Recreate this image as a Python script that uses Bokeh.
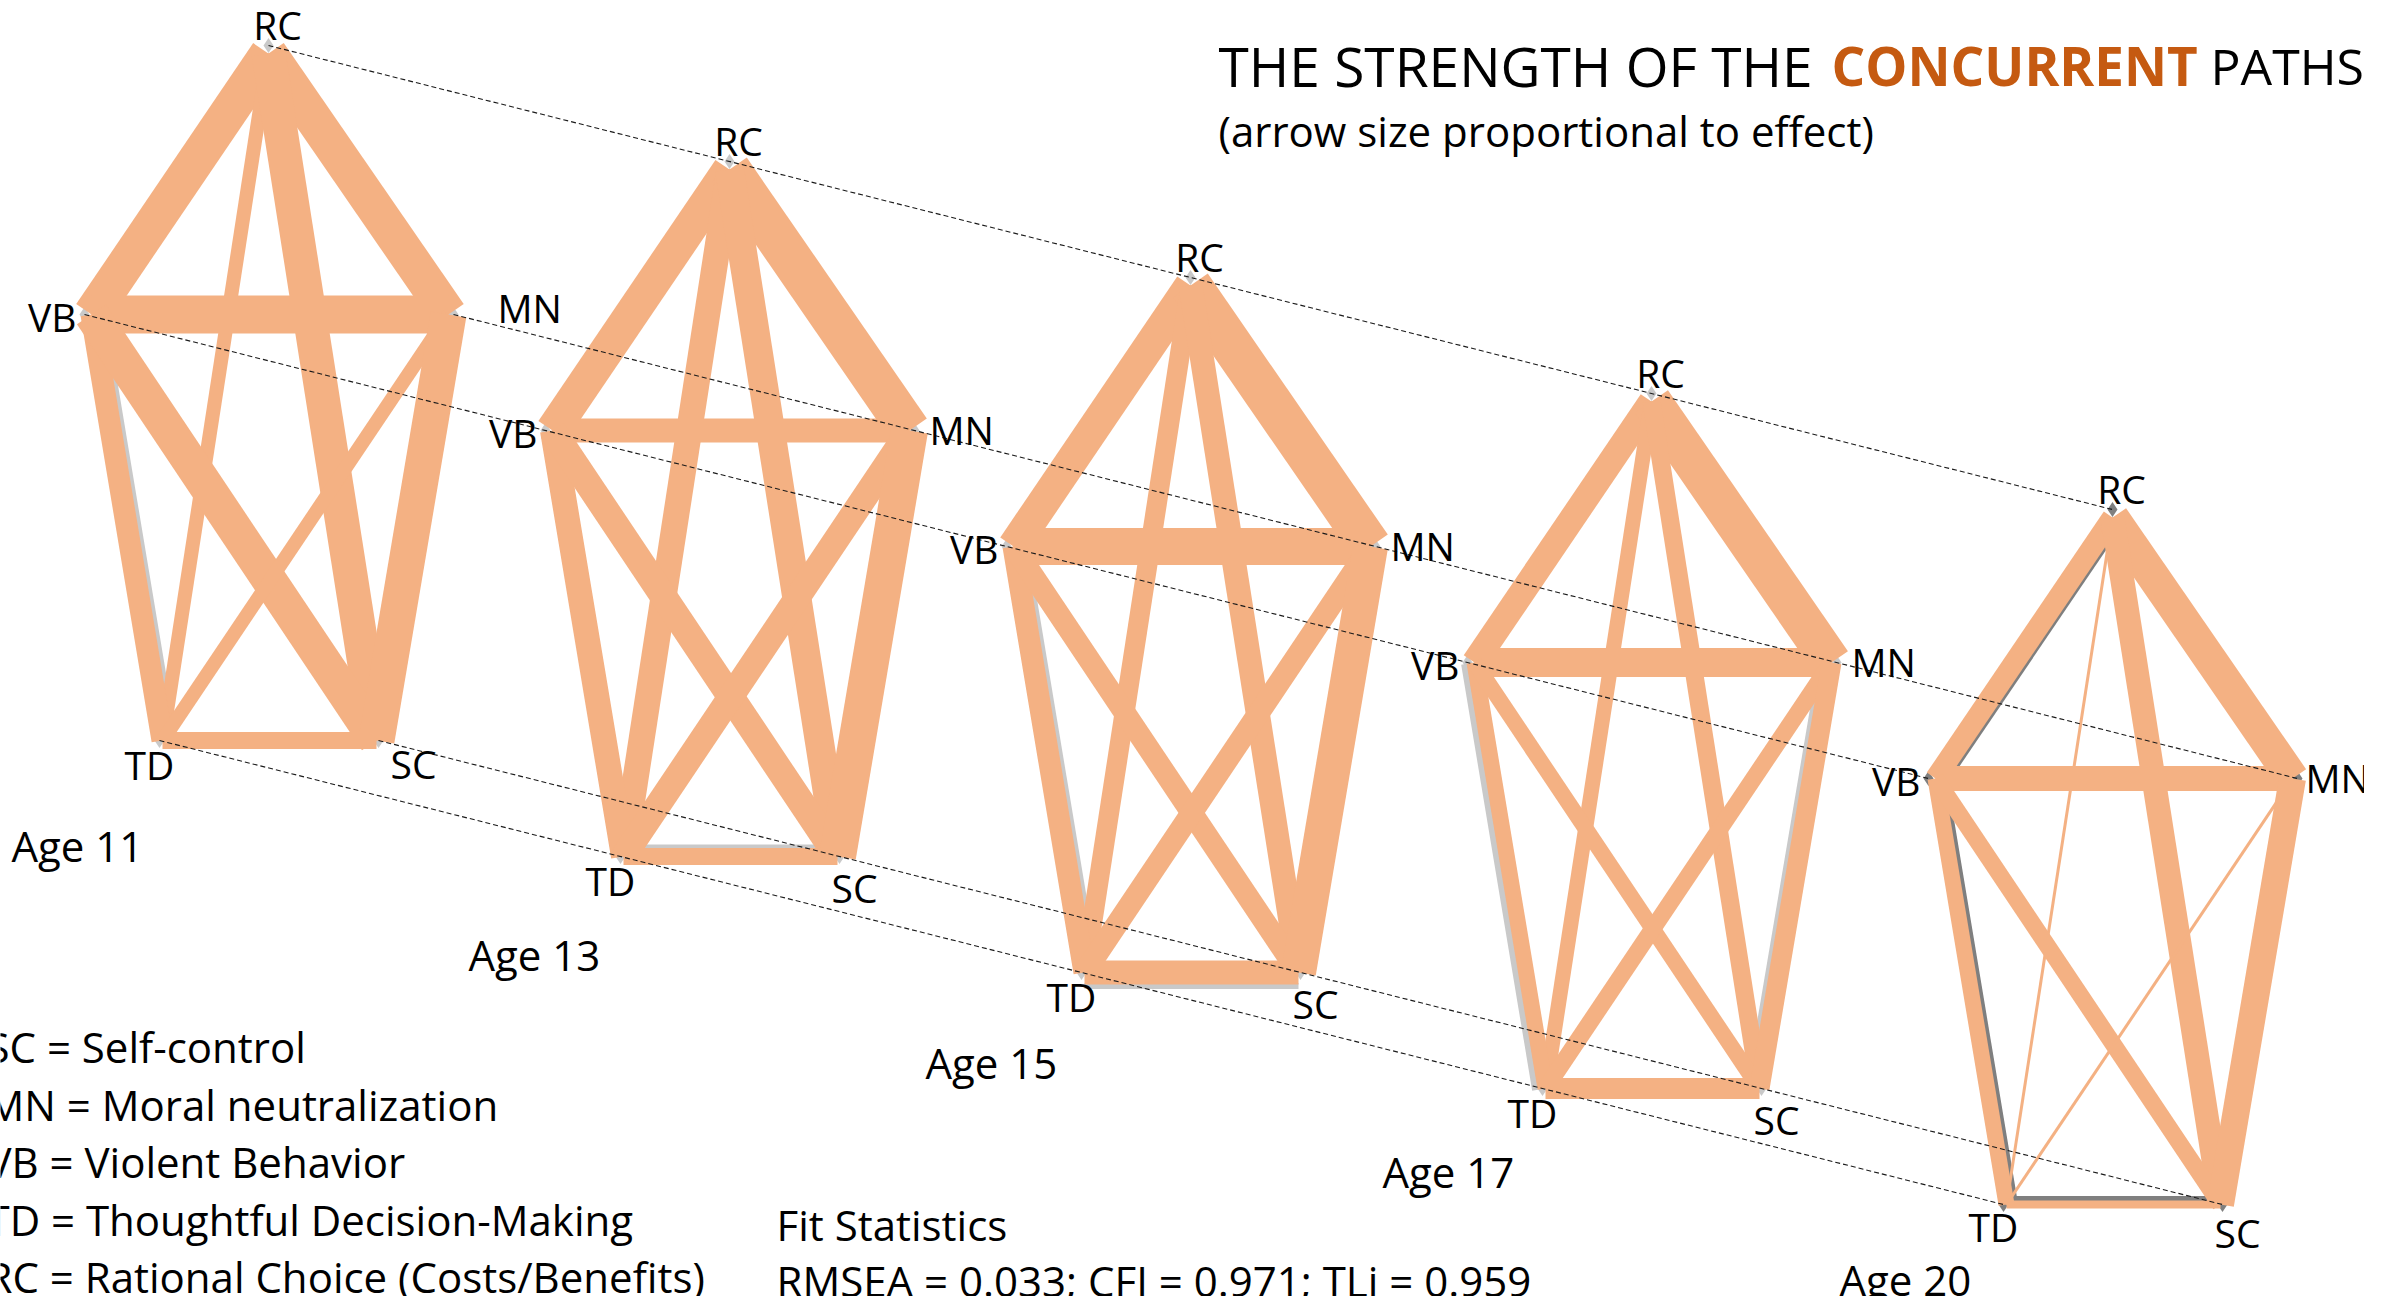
import math
from bokeh.plotting import figure
from bokeh.models import Range1d, ColumnDataSource
from bokeh.core.properties import value
from bokeh.embed import file_html
from bokeh.resources import INLINE

# ---------------- data ----------------
ages = ["Age 11", "Age 13", "Age 15", "Age 17", "Age 20"]
nodes = ["RC", "VB", "MN", "TD", "SC"]
path_from = ["RC", "RC", "RC", "RC", "VB", "VB", "VB", "MN", "MN", "TD"]
path_to = ["VB", "MN", "TD", "SC", "MN", "TD", "SC", "TD", "SC", "SC"]

# concurrent path strengths (arrow size proportional to effect)
effect_age11 = [0.37, 0.37, 0.14, 0.34, 0.38, 0.22, 0.35, 0.14, 0.36, 0.17]
effect_age13 = [0.34, 0.42, 0.26, 0.29, 0.24, 0.25, 0.27, 0.26, 0.37, 0.17]
effect_age15 = [0.32, 0.42, 0.20, 0.24, 0.37, 0.22, 0.22, 0.22, 0.35, 0.24]
effect_age17 = [0.26, 0.40, 0.15, 0.18, 0.29, 0.16, 0.16, 0.17, 0.20, 0.21]
effect_age20 = [0.21, 0.33, 0.03, 0.24, 0.25, 0.16, 0.17, 0.03, 0.27, 0.08]
effects = [effect_age11, effect_age13, effect_age15, effect_age17, effect_age20]

# grey (background) paths visible next to the orange ones
grey_age = ["Age 11", "Age 13", "Age 15", "Age 15", "Age 17", "Age 17", "Age 20", "Age 20", "Age 20"]
grey_from = ["VB", "TD", "VB", "TD", "VB", "MN", "RC", "VB", "TD"]
grey_to = ["TD", "SC", "TD", "SC", "TD", "SC", "VB", "TD", "SC"]
grey_effect = [0.05, 0.05, 0.05, 0.06, 0.07, 0.05, 0.04, 0.05, 0.06]

legend_lines = ["SC = Self-control", "MN = Moral neutralization", "VB = Violent Behavior",
                "TD = Thoughtful Decision-Making", "RC = Rational Choice (Costs/Benefits)"]
fit_title = "Fit Statistics"
fit_line = "RMSEA = 0.033; CFI = 0.971; TLi = 0.959"

# ---------------- layout / style ----------------
W, H = 2364, 1296
PX_PER_EFFECT = 100.0
ORANGE = "#F4B183"
TITLE_ORANGE = "#C55A11"
GREY_LIGHT = "#C9C9C9"
GREY_DARK = "#7F7F7F"
FONT = value("Open Sans")
grey_side = [1, 1, 1, -1, -1, 1, 1, 1, 1]   # +1 inner side, -1 outer side

rc_base = (276.0, 53.0)
age_step = (461.0, 116.0)
shape = {"RC": (0, 0), "VB": (-184, 269), "MN": (185, 269), "TD": (-109, 695), "SC": (110, 695)}
edge_inset = {"RC": (0, 8), "VB": (7, 0), "MN": (-5, 0), "TD": (3, 0), "SC": (-2, 0)}

def node_pos(i, n):
    ox, oy = shape[n]
    return (rc_base[0] + i * age_step[0] + ox, rc_base[1] + i * age_step[1] + oy)

def edge_end(i, n):
    x, y = node_pos(i, n)
    return (x + edge_inset[n][0], y + edge_inset[n][1])

p = figure(width=W, height=H, output_backend="svg", toolbar_location=None,
           x_range=Range1d(8, 8 + W), y_range=Range1d(8 + H, 8),
           min_border=0, outline_line_color=None,
           x_axis_location=None, y_axis_location=None)
p.grid.visible = False
p.background_fill_color = "white"
p.border_fill_color = "white"

# grey node markers
for i, age in enumerate(ages):
    gc = GREY_DARK if i == 4 else GREY_LIGHT
    xs = [node_pos(i, n)[0] for n in nodes]
    ys = [node_pos(i, n)[1] for n in nodes]
    p.scatter(xs, ys, marker="diamond", size=15, color=gc, line_color=None)

# grey underlying paths
gx0, gy0, gx1, gy1, gw, gc = [], [], [], [], [], []
for k in range(len(grey_age)):
    i = ages.index(grey_age[k])
    a = edge_end(i, grey_from[k]); b = edge_end(i, grey_to[k])
    cx = sum(node_pos(i, n)[0] for n in nodes) / 5.0
    cy = sum(node_pos(i, n)[1] for n in nodes) / 5.0
    dx, dy = b[0] - a[0], b[1] - a[1]
    L = math.hypot(dx, dy)
    nx, ny = -dy / L, dx / L
    mx, my = (a[0] + b[0]) / 2, (a[1] + b[1]) / 2
    if (cx - mx) * nx + (cy - my) * ny < 0:
        nx, ny = -nx, -ny
    j = [z for z in range(10) if {path_from[z], path_to[z]} == {grey_from[k], grey_to[k]}][0]
    ow = effects[i][j] * PX_PER_EFFECT
    w = grey_effect[k] * PX_PER_EFFECT
    off = grey_side[k] * (ow / 2 + w / 2 - 1.5)
    gx0.append(a[0] + nx * off); gy0.append(a[1] + ny * off)
    gx1.append(b[0] + nx * off); gy1.append(b[1] + ny * off)
    gw.append(w); gc.append(GREY_DARK if i == 4 else GREY_LIGHT)
p.segment(x0="x0", y0="y0", x1="x1", y1="y1", line_width="w", line_color="c", line_cap="butt",
          source=ColumnDataSource(dict(x0=gx0, y0=gy0, x1=gx1, y1=gy1, w=gw, c=gc)))

# orange concurrent paths
ox0, oy0, ox1, oy1, ow_ = [], [], [], [], []
for i, age in enumerate(ages):
    for j in range(len(path_from)):
        a = edge_end(i, path_from[j]); b = edge_end(i, path_to[j])
        ox0.append(a[0]); oy0.append(a[1]); ox1.append(b[0]); oy1.append(b[1])
        ow_.append(effects[i][j] * PX_PER_EFFECT)
p.segment(x0="x0", y0="y0", x1="x1", y1="y1", line_width="w", line_color=ORANGE, line_cap="butt",
          source=ColumnDataSource(dict(x0=ox0, y0=oy0, x1=ox1, y1=oy1, w=ow_)))

# dashed lines linking the same construct across ages
dx0 = [node_pos(0, n)[0] for n in nodes]; dy0 = [node_pos(0, n)[1] for n in nodes]
dx1 = [node_pos(4, n)[0] for n in nodes]; dy1 = [node_pos(4, n)[1] for n in nodes]
p.segment(dx0, dy0, dx1, dy1, line_color="#1a1a1a", line_width=1.1, line_dash="5 3")

# node labels
lab_off = {"RC": (9, -21, "center"), "VB": (-8, 2, "right"), "MN": (15, -1, "left"),
           "TD": (-10, 24, "center"), "SC": (15, 31, "center")}
lab_override = {(0, "MN"): (44, -7, "left"), (0, "SC"): (35, 23, "center"),
                (4, "MN"): (8, -1, "left"), (4, "SC"): (15, 28, "center"),
                (4, "TD"): (-10, 22, "center")}
for i, age in enumerate(ages):
    for n in nodes:
        x, y = node_pos(i, n)
        ddx, ddy, al = lab_override.get((i, n), lab_off[n])
        p.text([x + ddx], [y + ddy], text=[n], text_font=FONT, text_font_size="39px",
               text_align=al, text_baseline="alphabetic", text_color="black")

# age labels
for i, age in enumerate(ages):
    p.text([19 + i * 457], [853 + i * 108.5], text=[age], text_font=FONT, text_font_size="42px",
           text_align="left", text_baseline="alphabetic", text_color="black")

# legend
for k, line in enumerate(legend_lines):
    p.text([-6], [1054 + k * 57.5], text=[line], text_font=FONT, text_font_size="42px",
           text_align="left", text_baseline="alphabetic", text_color="black")

p.text([784], [1232], text=[fit_title], text_font=FONT, text_font_size="42px",
       text_align="left", text_baseline="alphabetic", text_color="black")
p.text([784], [1288], text=[fit_line], text_font=FONT, text_font_size="42px",
       text_align="left", text_baseline="alphabetic", text_color="black")

# title
p.text([1226], [73], text=["THE STRENGTH OF THE"], text_font=FONT, text_font_size="55px",
       text_align="left", text_baseline="alphabetic", text_color="black")
p.text([1839], [73], text=["CONCURRENT"], text_font=FONT, text_font_size="53px",
       text_font_style="bold", text_align="left", text_baseline="alphabetic", text_color=TITLE_ORANGE)
p.text([2218], [73], text=["PATHS"], text_font=FONT, text_font_size="50px",
       text_align="left", text_baseline="alphabetic", text_color="black")
p.text([1226], [138], text=["(arrow size proportional to effect)"], text_font=FONT,
       text_font_size="42px", text_align="left", text_baseline="alphabetic", text_color="black")

open("out.html", "w").write(file_html(p, INLINE))
